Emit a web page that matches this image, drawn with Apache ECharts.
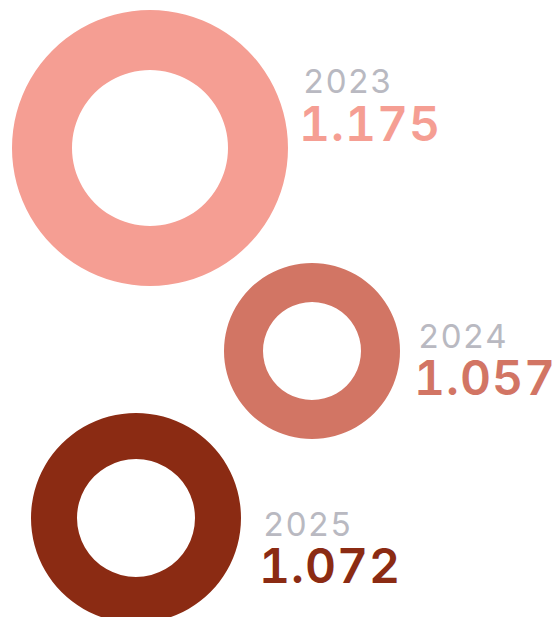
<!DOCTYPE html>
<html lang="en">
<head>
  <meta charset="UTF-8">
  <title>Rings</title>
  <style>
    html, body { margin: 0; padding: 0; background: #fff; }
    #main svg text { font-variant-numeric: tabular-nums !important; }
    #main svg text.yr { letter-spacing: 1px; }
    #main svg text.val { letter-spacing: 1px; }
  </style>
</head>
<body>
  <div id="main" style="width: 557px;height:617px;"></div>

  <script src="https://cdn.jsdelivr.net/npm/echarts@6/dist/echarts.min.js"></script>
  <script>
    const years = ['2023', '2024', '2025'];
    const values = [1.175, 1.057, 1.072];
    const colors = ['#F59E93', '#D27564', '#8B2B13'];

    // ring placement (px): center, inner/outer radius, label position
    const centers = [[150, 148], [312, 351], [136, 518]];
    const radii = [[78, 138], [49, 88], [59, 105]];
    const labelPos = [[299, 81, 123], [414, 336, 377], [259, 524, 565]];

    const myChart = echarts.init(document.getElementById('main'), null, { renderer: 'svg' });

    const series = years.map((y, i) => ({
      type: 'pie',
      name: y,
      center: centers[i],
      radius: radii[i],
      silent: true,
      label: { show: false },
      labelLine: { show: false },
      itemStyle: { color: colors[i] },
      data: [{ name: y, value: values[i] }]
    }));

    const graphic = [];
    years.forEach((y, i) => {
      graphic.push({
        type: 'text',
        x: labelPos[i][0] + 4,
        y: labelPos[i][1],
        style: {
          text: y,
          font: '400 33px Inter',
          fill: '#B9B9C1',
          verticalAlign: 'middle'
        }
      });
      graphic.push({
        type: 'text',
        x: labelPos[i][0],
        y: labelPos[i][2],
        style: {
          text: values[i].toFixed(3),
          font: '600 48px Inter',
          fill: colors[i],
          verticalAlign: 'middle'
        }
      });
    });

    myChart.setOption({
      animation: false,
      series: series,
      graphic: graphic
    });

    // tag label nodes so the spacing rules above can reach them
    document.querySelectorAll('#main svg text').forEach(t => {
      const s = t.textContent;
      t.classList.add(s.indexOf('.') >= 0 ? 'val' : 'yr');
    });
  </script>
</body>
</html>
